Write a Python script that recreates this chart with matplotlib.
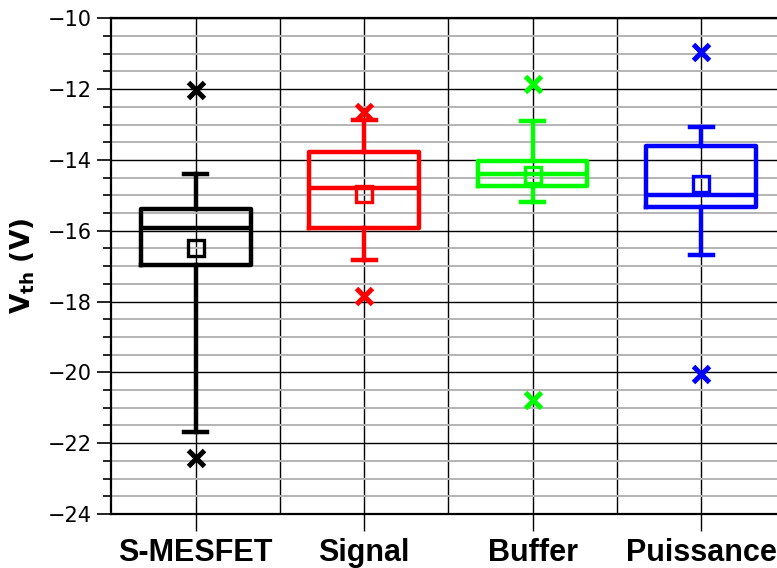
import matplotlib
matplotlib.use("Agg")
import matplotlib.pyplot as plt
from matplotlib.ticker import MultipleLocator

categories = ["S-MESFET", "Signal", "Buffer", "Puissance"]
colors = ["#000000", "#FF0000", "#00FF00", "#0000FF"]
q1 = [-16.96, -15.92, -14.75, -15.32]
med = [-15.93, -14.78, -14.41, -14.99]
q3 = [-15.38, -13.78, -14.04, -13.60]
whislo = [-21.68, -16.83, -15.20, -16.69]
whishi = [-14.40, -12.87, -12.90, -13.08]
means = [-16.50, -14.96, -14.43, -14.69]
f_low = [-22.43, -17.85, -20.78, -20.05]
f_high = [-12.03, -12.64, -11.86, -10.94]

plt.rcParams['font.family'] = ['DejaVu Sans']
plt.rcParams['mathtext.fontset'] = 'dejavusans'
fig = plt.figure(figsize=(7.77, 5.68), dpi=100)
ax = fig.add_axes([0.1435, 0.0951, 0.8674, 0.8727])

ax.set_xlim(0.5, 4.5)
ax.set_ylim(-24, -10)

# grid
ax.yaxis.set_major_locator(MultipleLocator(2))
ax.yaxis.set_minor_locator(MultipleLocator(0.5))
ax.grid(which='minor', axis='y', color='#b4b4b4', linewidth=1.4)
ax.grid(which='major', axis='y', color='#000000', linewidth=1.0)
ax.set_axisbelow(True)
for xb in [1.5, 2.5, 3.5]:
    ax.axvline(xb, color='black', linewidth=1.0, zorder=0.5)
for xc in range(1, 5):
    ax.axvline(xc, color='black', linewidth=1.0, zorder=0.5)

for i, c in enumerate(colors):
    stats = [dict(med=med[i], q1=q1[i], q3=q3[i], whislo=whislo[i], whishi=whishi[i],
                  mean=means[i], fliers=[f_low[i], f_high[i]], label=categories[i])]
    ax.bxp(stats, positions=[i + 1], widths=0.65, showmeans=True,
           boxprops=dict(color=c, linewidth=3.2),
           medianprops=dict(color=c, linewidth=3.2),
           whiskerprops=dict(color=c, linewidth=3.2),
           capprops=dict(color=c, linewidth=3.2),
           capwidths=0.135,
           meanprops=dict(marker='s', markerfacecolor='none', markeredgecolor=c,
                          markersize=12, markeredgewidth=2.4),
           flierprops=dict(marker='x', markeredgecolor=c, markersize=11,
                           markeredgewidth=3.6))

ax.set_xticks(range(1, 5))
ax.set_xticklabels(categories, fontsize=22, fontweight='bold',
                   fontfamily='Liberation Sans')
ax.tick_params(axis='x', length=12, width=1.0, pad=5)
ax.tick_params(axis='y', which='major', length=10, width=1.2, labelsize=15, pad=4)
ax.tick_params(axis='y', which='minor', length=6, width=1.2)
ax.set_yticks([-24, -22, -20, -18, -16, -14, -12, -10])
ax.set_yticklabels(["\u221224", "\u221222", "\u221220", "\u221218", "\u221216",
                    "\u221214", "\u221212", "\u221210"])

for s in ax.spines.values():
    s.set_linewidth(1.6)

ax.set_ylabel(r"$\mathbf{V_{th}\ (V)}$", fontsize=19, labelpad=8)

fig.savefig("out.png", dpi=100)
